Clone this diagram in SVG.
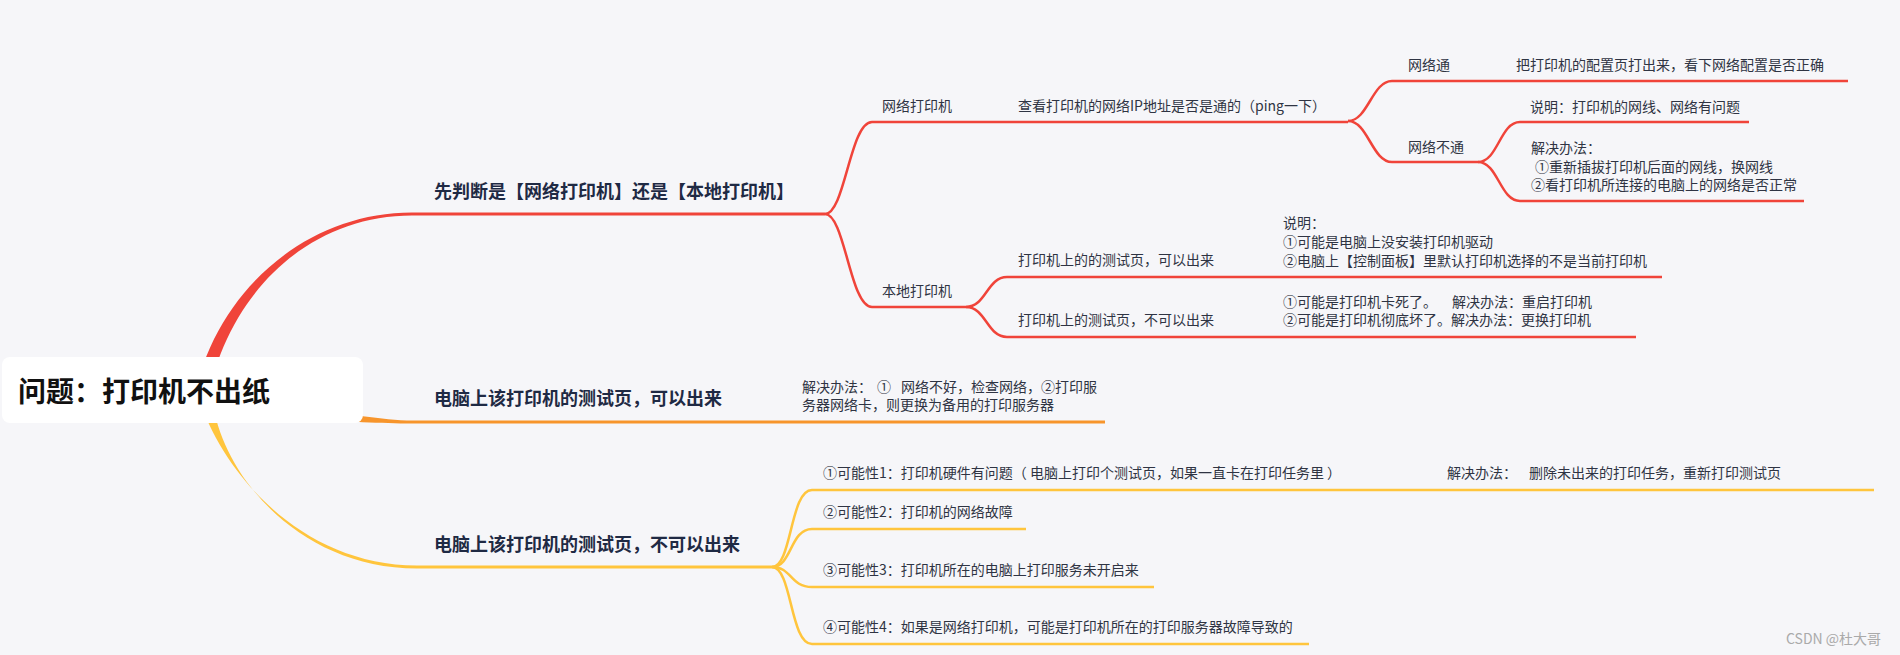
<svg xmlns="http://www.w3.org/2000/svg" width="1900" height="655" viewBox="0 0 1900 655">
<style>
text{font-family:"Noto Sans CJK SC","Noto Sans",sans-serif;}
.t1{font-size:18px;font-weight:bold;fill:#1f2a44;}
.t2{font-size:14px;fill:#2f3443;}
.root{font-size:28px;font-weight:bold;fill:#111111;}
.wm{font-size:14px;fill:#aaaaaa;}
.red{fill:none;stroke:#f0443a;stroke-width:2.5;}
.redm{fill:none;stroke:#f0443a;stroke-width:3;}
.org{fill:none;stroke:#f7952c;stroke-width:3;}
.yel{fill:none;stroke:#ffc53d;stroke-width:2.5;}
.yelm{fill:none;stroke:#ffc53d;stroke-width:3;}
</style>
<rect x="0" y="0" width="1900" height="655" fill="#f6f6f9"/>
<g id="connectors">
  <path d="M192 410 C208 300 300 212.5 412 212.5 L412 215.5 C304 215.5 222 300 206 410 Z" fill="#f0443a"/>
  <path class="redm" d="M412 214 H825"/>
  <path class="red" d="M825 214 C845 214 850 122 872 122 H1348"/>
  <path class="red" d="M825 214 C845 214 850 307 872 307 H966"/>
  <path class="red" d="M1348 121 C1368 121 1372 81 1392 81 H1848"/>
  <path class="red" d="M1348 121 C1368 121 1372 162 1392 162 H1478"/>
  <path class="red" d="M1478 162 C1498 162 1500 122 1520 122 H1749"/>
  <path class="red" d="M1478 162 C1498 162 1500 201 1520 201 H1804"/>
  <path class="red" d="M966 307 C986 307 987 277 1007 277 H1662"/>
  <path class="red" d="M966 307 C986 307 987 337 1007 337 H1636"/>
  <path d="M300 408 C350 413 380 420.5 413 420.5 L413 423.5 C380 423.5 350 421 300 420 Z" fill="#f7952c"/>
  <path class="org" d="M413 422 H1105"/>
  <path d="M198 395 C220 470 300 565.5 417 565.5 L417 568.5 C296 568.5 218 470 212 395 Z" fill="#ffc53d"/>
  <path class="yelm" d="M417 567 H772"/>
  <path class="yel" d="M772 567 C792 567 790 490 812 490 H1874"/>
  <path class="yel" d="M772 567 C792 567 790 529 812 529 H1026"/>
  <path class="yel" d="M772 567 C792 567 790 587 812 587 H1154"/>
  <path class="yel" d="M772 567 C792 567 790 644 812 644 H1309"/>
</g>
<g id="root">
  <rect x="2" y="357" width="361" height="66" rx="8" fill="#ffffff"/>
  <text class="root" x="18" y="402">问题：打印机不出纸</text>
</g>
<g id="n1"><text class="t1" x="434" y="198">先判断是【网络打印机】还是【本地打印机】</text></g>
<g id="n2"><text class="t1" x="434" y="405">电脑上该打印机的测试页，可以出来</text></g>
<g id="n3"><text class="t1" x="434" y="551">电脑上该打印机的测试页，不可以出来</text></g>
<g id="n1-1"><text class="t2" x="882" y="111">网络打印机</text></g>
<g id="n1-1-1"><text class="t2" x="1018" y="111">查看打印机的网络IP地址是否是通的（ping一下）</text></g>
<g id="n1-1-1-1"><text class="t2" x="1408" y="70">网络通</text></g>
<g id="n1-1-1-1-1"><text class="t2" x="1516" y="70">把打印机的配置页打出来，看下网络配置是否正确</text></g>
<g id="n1-1-1-2"><text class="t2" x="1408" y="152">网络不通</text></g>
<g id="n1-1-1-2-1"><text class="t2" x="1530" y="112">说明：打印机的网线、网络有问题</text></g>
<g id="n1-1-1-2-2">
  <text class="t2" x="1531" y="153">解决办法：</text>
  <text class="t2" x="1535" y="172">①重新插拔打印机后面的网线，换网线</text>
  <text class="t2" x="1531" y="190">②看打印机所连接的电脑上的网络是否正常</text>
</g>
<g id="n1-2"><text class="t2" x="882" y="296">本地打印机</text></g>
<g id="n1-2-1"><text class="t2" x="1018" y="265">打印机上的的测试页，可以出来</text></g>
<g id="n1-2-1-1">
  <text class="t2" x="1283" y="228">说明：</text>
  <text class="t2" x="1283" y="247">①可能是电脑上没安装打印机驱动</text>
  <text class="t2" x="1283" y="266">②电脑上【控制面板】里默认打印机选择的不是当前打印机</text>
</g>
<g id="n1-2-2"><text class="t2" x="1018" y="325">打印机上的测试页，不可以出来</text></g>
<g id="n1-2-2-1">
  <text class="t2" x="1283" y="307">①可能是打印机卡死了。<tspan x="1452">解决办法：重启打印机</tspan></text>
  <text class="t2" x="1283" y="325">②可能是打印机彻底坏了。解决办法：更换打印机</text>
</g>
<g id="n2-1">
  <text class="t2" x="802" y="392">解决办法：<tspan x="877">①</tspan><tspan x="901">网络不好，检查网络，②打印服</tspan></text>
  <text class="t2" x="802" y="410">务器网络卡，则更换为备用的打印服务器</text>
</g>
<g id="n3-1">
  <text class="t2" x="823" y="478">①可能性1：打印机硬件有问题（ 电脑上打印个测试页，如果一直卡在打印任务里 ）</text>
  <text class="t2" x="1447" y="478">解决办法：<tspan x="1529">删除未出来的打印任务，重新打印测试页</tspan></text>
</g>
<g id="n3-2"><text class="t2" x="823" y="517">②可能性2：打印机的网络故障</text></g>
<g id="n3-3"><text class="t2" x="823" y="575">③可能性3：打印机所在的电脑上打印服务未开启来</text></g>
<g id="n3-4"><text class="t2" x="823" y="632">④可能性4：如果是网络打印机，可能是打印机所在的打印服务器故障导致的</text></g>
<text class="wm" x="1786" y="644" font-family="Liberation Sans">CSDN @杜大哥</text>
</svg>
